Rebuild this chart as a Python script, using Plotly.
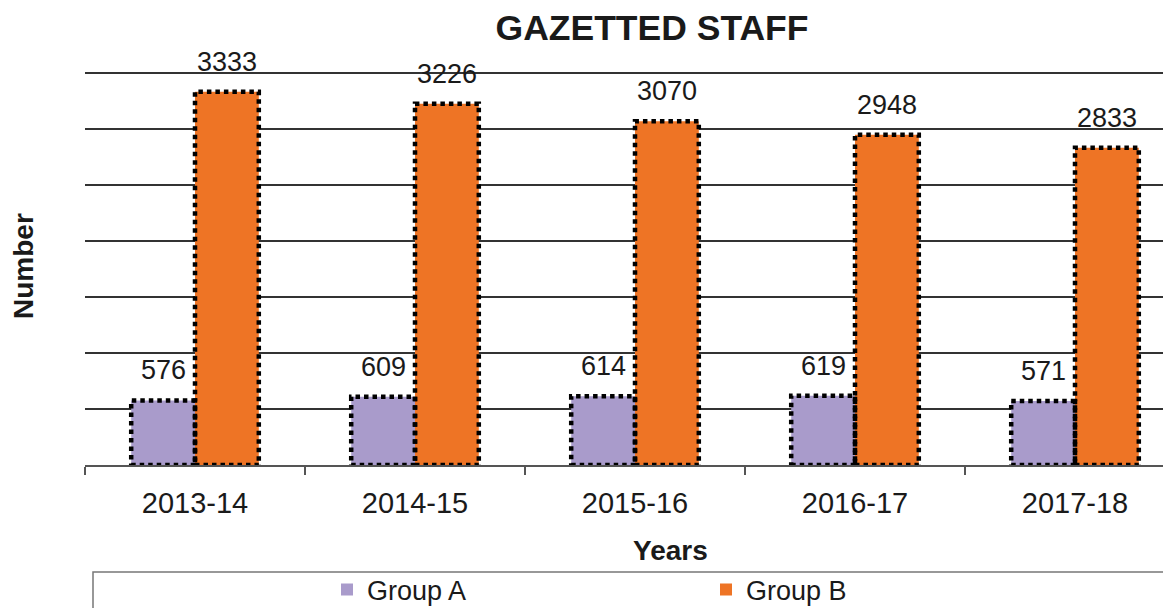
import plotly.graph_objects as go

years = ["2013-14", "2014-15", "2015-16", "2016-17", "2017-18"]
group_a = [576, 609, 614, 619, 571]
group_b = [3333, 3226, 3070, 2948, 2833]
series_names = ["Group A", "Group B"]
series_colors = ["#A99BCB", "#EE7425"]

W, H = 1171, 608
OFF = 8  # page body margin offset

# target page-pixel geometry of the plot area
P_LEFT, P_TOP, P_BASE = 85, 70, 465
L = P_LEFT - OFF
T = P_TOP - OFF
B = H - (P_BASE - OFF)
R = 0
pw = W - L - R
ph = H - T - B

scale = (P_BASE - 73) / 3500.0  # px per unit: 3500 gridline sits at page y=73
ymax = (P_BASE - P_TOP) / scale

def px_x(p):
    return (p - OFF - L) / pw

def px_y(p):
    return (H - B - (p - OFF)) / ph

FONT = "Liberation Sans, Arial, sans-serif"
bar_w = 0.29

fig = go.Figure()
for name, vals, col in zip(series_names, [group_a, group_b], series_colors):
    fig.add_trace(go.Bar(
        x=years, y=vals, name=name,
        marker=dict(color=col, line=dict(width=0)),
    ))

shapes = []
annotations = []
for s, vals in enumerate([group_a, group_b]):
    for i, v in enumerate(vals):
        x0 = i - bar_w + s * bar_w
        x1 = x0 + bar_w
        shapes.append(dict(type="rect", xref="x", yref="y", x0=x0, x1=x1, y0=0, y1=v,
                           line=dict(color="black", width=4.5, dash="4.5px,4px"), layer="above"))
        annotations.append(dict(x=(x0 + x1) / 2, y=v, xref="x", yref="y", text=str(v),
                                showarrow=False, yanchor="bottom", yshift=13,
                                font=dict(family=FONT, size=27, color="#1a1a1a")))

# legend box
shapes.append(dict(type="rect", xref="paper", yref="paper",
                   x0=px_x(93), x1=px_x(1200), y0=px_y(640), y1=px_y(572),
                   line=dict(color="#777777", width=1.5), layer="below"))

annotations.append(dict(text="<b>Number</b>", xref="paper", yref="paper",
                        x=px_x(23), y=px_y(266), textangle=-90, showarrow=False,
                        xanchor="center", yanchor="middle",
                        font=dict(family=FONT, size=28, color="#1a1a1a")))
annotations.append(dict(text="<b>Years</b>", xref="paper", yref="paper",
                        x=px_x(670), y=px_y(550), showarrow=False,
                        xanchor="center", yanchor="middle",
                        font=dict(family=FONT, size=28, color="#1a1a1a")))

fig.update_layout(
    width=W, height=H,
    margin=dict(l=L, r=R, t=T, b=B, autoexpand=False),
    paper_bgcolor="white", plot_bgcolor="white",
    barmode="group", bargap=0.42, bargroupgap=0,
    title=dict(text="<b>GAZETTED STAFF</b>", x=(652 - OFF) / W, xanchor="center",
               y=1 - (28 - OFF) / H, yanchor="middle", xref="container", yref="container",
               font=dict(family=FONT, size=35.5, color="#1a1a1a")),
    xaxis=dict(type="category", range=[-0.5, 4.5 - (1185 - OFF - W) / 220.0],
               showline=True, linecolor="#555555", linewidth=1.5,
               ticks="outside", tickson="boundaries", ticklen=8, tickcolor="#555555",
               tickwidth=1.5, showgrid=False, ticklabelstandoff=11,
               tickfont=dict(family=FONT, size=29, color="#1a1a1a")),
    yaxis=dict(range=[0, ymax], tickmode="linear", tick0=0, dtick=500,
               showticklabels=False, showgrid=True,
               gridcolor="#333333", gridwidth=1.6, zeroline=False, showline=False),
    showlegend=True,
    legend=dict(orientation="h", x=px_x(327), y=px_y(590), xanchor="left", yanchor="middle",
                entrywidth=334, font=dict(family=FONT, size=27, color="#1a1a1a"),
                bgcolor="rgba(0,0,0,0)", borderwidth=0),
    shapes=shapes, annotations=annotations,
)

fig.write_html("out.html")
